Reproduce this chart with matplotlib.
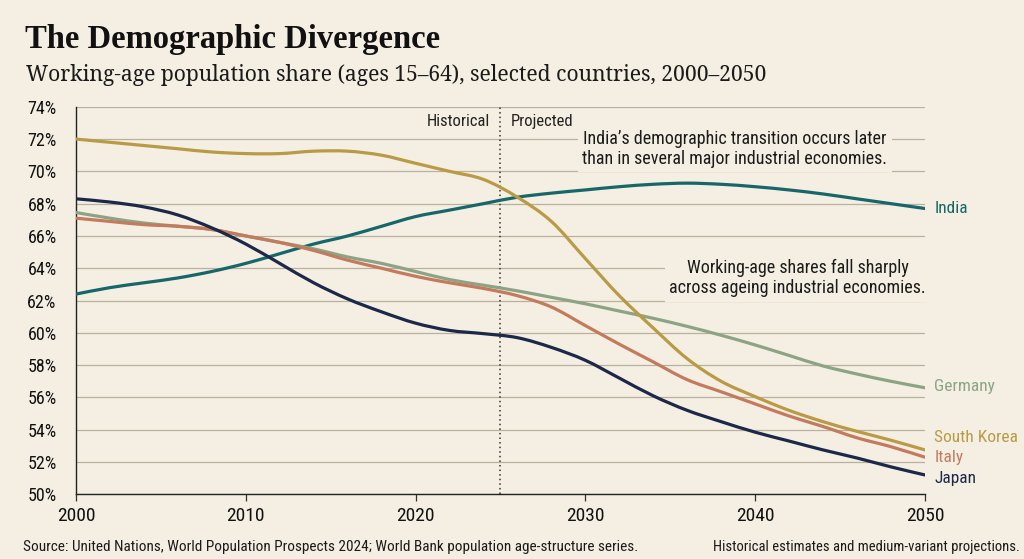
import matplotlib
matplotlib.use("Agg")
import matplotlib.pyplot as plt
from matplotlib import font_manager
from matplotlib.path import Path
from matplotlib.patches import PathPatch

# ---------------- data ----------------
years = list(range(2000, 2051, 2))
south_korea = [72.0, 71.8, 71.6, 71.4, 71.2, 71.1, 71.1, 71.25, 71.25, 71.0, 70.5, 70.0, 69.5,
               68.4, 66.9, 64.6, 62.3, 60.3, 58.4, 57.0, 56.05, 55.2, 54.5, 53.9, 53.35, 52.75]
india = [62.4, 62.8, 63.1, 63.4, 63.8, 64.3, 64.9, 65.5, 66.0, 66.6, 67.2, 67.6, 68.0,
         68.4, 68.65, 68.85, 69.05, 69.2, 69.27, 69.2, 69.05, 68.85, 68.6, 68.3, 68.0, 67.7]
japan = [68.3, 68.1, 67.8, 67.3, 66.5, 65.5, 64.3, 63.1, 62.1, 61.3, 60.6, 60.15, 59.95,
         59.7, 59.1, 58.3, 57.2, 56.1, 55.2, 54.5, 53.85, 53.3, 52.75, 52.25, 51.7, 51.2]
germany = [67.45, 67.1, 66.8, 66.6, 66.4, 66.0, 65.6, 65.2, 64.7, 64.3, 63.8, 63.3, 62.95,
           62.6, 62.2, 61.8, 61.35, 60.9, 60.4, 59.85, 59.25, 58.6, 57.95, 57.45, 57.0, 56.6]
italy = [67.1, 66.9, 66.7, 66.6, 66.4, 66.0, 65.6, 65.1, 64.5, 64.0, 63.5, 63.1, 62.75,
         62.3, 61.6, 60.45, 59.3, 58.2, 57.1, 56.35, 55.6, 54.85, 54.2, 53.5, 52.95, 52.3]

series_names = ["India", "Germany", "Italy", "South Korea", "Japan"]
series_values = [india, germany, italy, south_korea, japan]
x_ticks = [2000, 2010, 2020, 2030, 2040, 2050]
y_ticks = list(range(50, 75, 2))
split_year = 2025

title = "The Demographic Divergence"
subtitle = "Working-age population share (ages 15\u201364), selected countries, 2000\u20132050"
note_india = "India\u2019s demographic transition occurs later\nthan in several major industrial economies."
note_ageing = "Working-age shares fall sharply\nacross ageing industrial economies."
source = "Source: United Nations, World Population Prospects 2024; World Bank population age-structure series."
source_right = "Historical estimates and medium-variant projections."

# ---------------- style ----------------
colors = {"India": "#17666a", "Germany": "#8ca485", "Italy": "#c47a5c",
          "South Korea": "#b99a45", "Japan": "#1c2849"}
label_offsets = {"India": 0.0, "Germany": 0.1, "Italy": -0.05, "South Korea": 0.75, "Japan": -0.2}
BG = "#f4efe2"
GRID = "#b9b0a0"

avail = {f.name for f in font_manager.fontManager.ttflist}
sans = "DejaVu Sans"
for cand in ["Liberation Sans Narrow", "Roboto Condensed", "Open Sans Condensed", "Lato", "Roboto"]:
    if cand in avail:
        sans = cand
        break
serif = "DejaVu Serif"
for cand in ["Noto Serif", "DejaVu Serif"]:
    if cand in avail:
        serif = cand
        break
title_font = "Liberation Serif" if "Liberation Serif" in avail else "DejaVu Serif"

plt.rcParams["font.family"] = [sans, "DejaVu Sans"]


def smooth_path(xs, ys):
    """Catmull-Rom curve through the data points, as cubic Bezier segments."""
    n = len(xs)
    verts = [(xs[0], ys[0])]
    codes = [Path.MOVETO]
    for i in range(n - 1):
        x0, y0 = (xs[i - 1], ys[i - 1]) if i > 0 else (xs[i], ys[i])
        x1, y1 = xs[i], ys[i]
        x2, y2 = xs[i + 1], ys[i + 1]
        x3, y3 = (xs[i + 2], ys[i + 2]) if i + 2 < n else (xs[i + 1], ys[i + 1])
        c1 = (x1 + (x2 - x0) / 6.0, y1 + (y2 - y0) / 6.0)
        c2 = (x2 - (x3 - x1) / 6.0, y2 - (y3 - y1) / 6.0)
        verts += [c1, c2, (x2, y2)]
        codes += [Path.CURVE4] * 3
    return Path(verts, codes)


fig = plt.figure(figsize=(10.24, 5.59), dpi=100, facecolor=BG)
ax = fig.add_axes([0.0742, 0.1157, 0.829, 0.6933], facecolor=BG)

for name, vals in zip(series_names, series_values):
    patch = PathPatch(smooth_path(years, vals), facecolor="none", edgecolor=colors[name],
                      lw=2.3, capstyle="round", joinstyle="round", zorder=3)
    ax.add_patch(patch)
    ax.text(years[-1] + 0.55, vals[-1] + label_offsets[name], name, color=colors[name],
            fontsize=12.5, va="center", ha="left", clip_on=False)

ax.set_xlim(2000, 2050)
ax.set_ylim(50, 74)
ax.set_xticks(x_ticks)
ax.set_xticklabels([str(v) for v in x_ticks])
ax.set_yticks(y_ticks)
ax.set_yticklabels([f"{v}%" for v in y_ticks])
ax.grid(axis="y", color=GRID, lw=0.9, zorder=1)
ax.set_axisbelow(True)
for s in ["top", "right"]:
    ax.spines[s].set_visible(False)
for s in ["left", "bottom"]:
    ax.spines[s].set_color("#222222")
    ax.spines[s].set_linewidth(1.0)
ax.tick_params(axis="x", length=5, width=0.9, color="#333333", labelsize=14, pad=4, labelcolor="#111111")
ax.tick_params(axis="y", length=0, labelsize=13, pad=14, labelcolor="#111111")

ax.axvline(split_year, color="#333333", lw=1.1, ls=(0, (1, 2)), zorder=2)
ax.text(split_year - 0.6, 73.1, "Historical", ha="right", va="center", fontsize=12, color="#222222")
ax.text(split_year + 0.6, 73.1, "Projected", ha="left", va="center", fontsize=12, color="#222222")

ax.text(2038.8, 71.4, note_india, ha="center", va="center", fontsize=13, color="#1b1b1b",
        linespacing=1.15, zorder=4,
        bbox=dict(boxstyle="square,pad=0.25", facecolor=BG, edgecolor="none"))
ax.text(2042.5, 63.4, note_ageing, ha="center", va="center", fontsize=13, color="#1b1b1b",
        linespacing=1.15, zorder=4,
        bbox=dict(boxstyle="square,pad=0.25", facecolor=BG, edgecolor="none"))

fig.text(0.024, 0.93, title, family=title_font, fontweight="bold", fontsize=23.5, color="#111111",
         ha="left", va="center")
fig.text(0.025, 0.866, subtitle, family=serif, fontsize=15.2, color="#1a1a1a",
         ha="left", va="center")
fig.text(0.022, 0.022, source, fontsize=11, color="#1a1a1a", ha="left", va="center")
fig.text(0.996, 0.022, source_right, fontsize=10.5, color="#1a1a1a", ha="right", va="center")

fig.savefig("out.png", dpi=100, facecolor=BG)
